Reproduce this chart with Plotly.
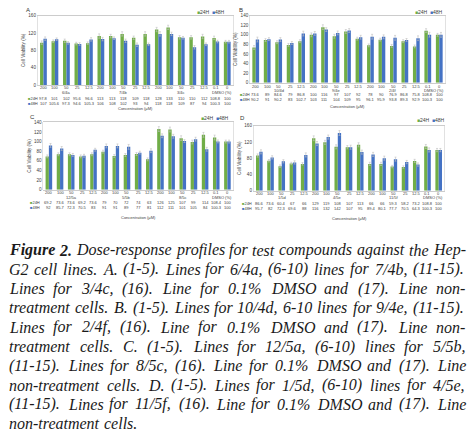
import plotly.graph_objects as go

# ---------------- data ----------------
conc_labels = ["200", "100", "50", "25", "12.5", "200", "100", "50", "25", "12.5",
               "200", "100", "50", "25", "12.5", "0.1", "0"]

A_groups = ["6/4a", "7/4b", "3/4c", "DMSO (%)"]
A_24 = [97.8, 101, 102, 95.6, 96.6, 113, 113, 118, 109, 118, 128, 133, 110, 110, 112, 108.8, 100]
A_48 = [107, 105.6, 97.3, 94.6, 105.3, 106, 108, 102, 93, 94, 118, 118, 109, 87, 94, 100.3, 100]
A_e24 = [4, 3, 4, 3, 3, 5, 4, 5, 4, 5, 5, 5, 4, 4, 5, 4, 3]
A_e48 = [4, 3, 3, 3, 4, 4, 3, 4, 4, 3, 5, 4, 3, 4, 3, 3, 3]

B_groups = ["10/4d", "9/4e", "2/4f", "DMSO (%)"]
B_24 = [73.6, 89, 84.6, 79, 86.8, 100, 116, 97, 107, 92, 78, 90, 76.9, 86.8, 75.8, 108.8, 100]
B_48 = [90.2, 91, 90.2, 83, 102.7, 103, 111, 104, 109, 95, 96.1, 95.9, 93.8, 89.3, 92.9, 100.3, 100]
B_e24 = [4, 3, 3, 3, 3, 4, 5, 4, 4, 3, 3, 3, 3, 3, 3, 4, 3]
B_e48 = [5, 3, 4, 3, 5, 4, 4, 4, 4, 4, 5, 4, 5, 3, 5, 5, 5]

C_groups = ["12/5a", "5/5b", "8/5c", "DMSO (%)"]
C_24 = [69.2, 73.6, 73.6, 69.2, 73.6, 79, 70, 72, 74, 63, 126, 125, 107, 99, 114, 108.4, 100]
C_48 = [92, 85.7, 72.3, 70.5, 83, 91, 91, 89, 77, 81, 112, 111, 101, 105, 84, 100.3, 100]
C_e24 = [3, 3, 3, 3, 3, 3, 3, 3, 3, 3, 5, 5, 5, 4, 5, 5, 3]
C_e48 = [4, 4, 3, 3, 3, 4, 4, 5, 3, 4, 4, 4, 3, 4, 4, 3, 3]

D_groups = ["1/5d", "4/5e", "11/5f", "DMSO (%)"]
D_24 = [86.6, 73.6, 60.4, 67, 66, 129, 119, 108, 107, 113, 66, 66, 59.3, 58.2, 73.2, 108.8, 100]
D_48 = [95.7, 82, 72.3, 69.6, 88, 116, 132, 142, 107, 95, 89.4, 80.1, 77.7, 70.5, 64.3, 100.3, 100]
D_e24 = [4, 3, 3, 3, 3, 6, 5, 5, 4, 5, 4, 4, 3, 3, 4, 5, 4]
D_e48 = [5, 4, 4, 4, 5, 5, 5, 6, 5, 5, 5, 5, 5, 4, 4, 5, 4]

series_names = ["24H", "48H"]
colors = ["#70AD47", "#4472C4"]

caption_lines = [
    "Figure 2. Dose-response profiles for test compounds against the Hep-",
    "G2 cell lines. A. (1-5). Lines for 6/4a, (6-10) lines for 7/4b, (11-15).",
    "Lines for 3/4c, (16). Line for 0.1% DMSO and (17). Line non-",
    "treatment cells. B. (1-5). Lines for 10/4d, 6-10 lines for 9/4e, (11-15).",
    "Lines for 2/4f, (16). Line for 0.1% DMSO and (17). Line non-",
    "treatment cells. C. (1-5). Lines for 12/5a, (6-10) lines for 5/5b,",
    "(11-15). Lines for 8/5c, (16). Line for 0.1% DMSO and (17). Line",
    "non-treatment cells. D. (1-5). Lines for 1/5d, (6-10) lines for 4/5e,",
    "(11-15). Lines for 11/5f, (16). Line for 0.1% DMSO and (17). Line",
    "non-treatment cells.",
]

# ---------------- layout helpers ----------------
W, H = 474, 441
def px(x): return x / W
def py(y): return 1 - y / H

panels = [
    dict(letter="A", s="", y24=A_24, y48=A_48, e24=A_e24, e48=A_e48, groups=A_groups,
         xd=(37.7, 233), yd=(15.7, 85), ymax=160, dtick=40, lab=(28, 10), leg=(197, 11.7),
         tick=87.8, grp=92.3, r24=98.5, r48=103.3, conc=108.5, rowx=38),
    dict(letter="B", s="2", y24=B_24, y48=B_48, e24=B_e24, e48=B_e48, groups=B_groups,
         xd=(250, 445), yd=(15.7, 82.7), ymax=140, dtick=20, lab=(241, 10), leg=(415, 12),
         tick=86, grp=90.3, r24=94.7, r48=99.3, conc=106.5, rowx=250),
    dict(letter="C", s="3", y24=C_24, y48=C_48, e24=C_e24, e48=C_e48, groups=C_groups,
         xd=(43.3, 233), yd=(122.3, 189.7), ymax=140, dtick=20, lab=(32.7, 117.3), leg=(201, 118.3),
         tick=192.7, grp=197.3, r24=202, r48=207, conc=217.3, rowx=40),
    dict(letter="D", s="4", y24=D_24, y48=D_48, e24=D_e24, e48=D_e48, groups=D_groups,
         xd=(253.7, 444.3), yd=(125.7, 190.7), ymax=160, dtick=40, lab=(242, 118), leg=(417, 120),
         tick=193.5, grp=197.8, r24=203.7, r48=209, conc=218.3, rowx=252),
]

TXT = "#404040"
SF = "Liberation Sans"
fig = go.Figure()
annotations = []
layout = dict(width=W, height=H, margin=dict(l=0, r=0, t=0, b=0, autoexpand=False),
              paper_bgcolor="white", plot_bgcolor="white",
              barmode="group", bargap=0.41, bargroupgap=0, showlegend=False)

def fmt(v):
    return str(int(v)) if float(v).is_integer() else f"{v:.1f}"

def ann(**kw):
    base = dict(showarrow=False, borderpad=0, borderwidth=0, xanchor="center", yanchor="middle")
    base.update(kw)
    annotations.append(base)

cats = list(range(len(conc_labels)))
for p in panels:
    s = p["s"]
    xr, yr = "x" + s, "y" + s
    for name, col, ys, es in [(series_names[0], colors[0], p["y24"], p["e24"]),
                               (series_names[1], colors[1], p["y48"], p["e48"])]:
        fig.add_trace(go.Bar(x=cats, y=ys, name=name, marker=dict(color=col, line=dict(width=0)),
                             error_y=dict(type="data", array=es, color="#BFBFBF", thickness=0.6, width=1),
                             xaxis=xr, yaxis=yr, hoverinfo="skip"))
    layout["xaxis" + s] = dict(domain=[px(p["xd"][0]), px(p["xd"][1])], anchor=yr,
                               range=[-0.5, 16.5], showticklabels=False, showgrid=False,
                               zeroline=False, showline=True, linecolor="#BFBFBF", linewidth=0.8,
                               mirror=True, ticks="")
    layout["yaxis" + s] = dict(domain=[py(p["yd"][1]), py(p["yd"][0])], anchor=xr,
                               range=[0, p["ymax"]], dtick=p["dtick"], showgrid=False, zeroline=False,
                               showline=True, linecolor="#D9D9D9", linewidth=0.8, mirror=True, ticks="",
                               tickfont=dict(size=4.6, color=TXT, family=SF),
                               title=dict(text="Cell Viability (%)", font=dict(size=4.6, color=TXT, family=SF),
                                          standoff=2))
    f5 = dict(size=4.0, color=TXT, family=SF)
    for i, t in enumerate(conc_labels):
        ann(x=i, xref=xr, y=py(p["tick"]), yref="paper", text=t, font=f5)
    for gx, g in zip([2, 7, 12, 15.5], p["groups"]):
        ann(x=gx, xref=xr, y=py(p["grp"]), yref="paper", text=g, font=f5)
    for rowy, vals, col, nm in [(p["r24"], p["y24"], colors[0], series_names[0]),
                                (p["r48"], p["y48"], colors[1], series_names[1])]:
        for i, v in enumerate(vals):
            ann(x=i, xref=xr, y=py(rowy), yref="paper", text=fmt(v), font=f5)
        ann(x=px(p["rowx"]), xref="paper", xanchor="right", y=py(rowy), yref="paper",
            text=f"<span style='color:{col}'>■</span>{nm}", font=f5)
    ann(x=px((p["xd"][0] + p["xd"][1]) / 2), xref="paper", y=py(p["conc"]), yref="paper",
        text="Concentration (µM)", font=f5)
    ann(x=px(p["lab"][0]), xref="paper", y=py(p["lab"][1]), yref="paper",
        text=p["letter"], font=dict(size=6, color="#333333", family=SF))
    ann(x=px(p["leg"][0]), xref="paper", xanchor="left", y=py(p["leg"][1]), yref="paper",
        text=f"<span style='color:{colors[0]}'>■</span>{series_names[0]}  "
             f"<span style='color:{colors[1]}'>■</span>{series_names[1]}",
        font=dict(size=5, color=TXT, family=SF))

# ---------------- caption (justified, italic serif) ----------------
TI = {' ': 250, '%': 833, '(': 333, ')': 333, ',': 250, '-': 333, '.': 250, '/': 278,
      'A': 611, 'B': 611, 'C': 667, 'D': 722, 'E': 611, 'F': 611, 'G': 722, 'H': 722, 'I': 333,
      'L': 556, 'M': 833, 'N': 667, 'O': 722, 'S': 500, 'T': 556,
      'a': 500, 'b': 500, 'c': 444, 'd': 500, 'e': 444, 'f': 278, 'g': 500, 'h': 500, 'i': 278,
      'j': 278, 'k': 444, 'l': 278, 'm': 722, 'n': 500, 'o': 500, 'p': 500, 'q': 500, 'r': 389,
      's': 389, 't': 278, 'u': 500, 'v': 444, 'w': 667, 'x': 444, 'y': 444, 'z': 389}
TBI = dict(TI); TBI.update({'F': 667, 'u': 556})
FS = 16
def wid(word, bold=False):
    tb = TBI if bold else TI
    return sum(tb.get(c, 500) for c in word) * FS / 1000.0

X0, X1 = 9, 465
for li, line in enumerate(caption_lines):
    yline = 250 + li * 19.3
    words = line.split(" ")
    bolds = [li == 0 and wi < 2 for wi in range(len(words))]
    widths = [wid(w, b) for w, b in zip(words, bolds)]
    justify = li < len(caption_lines) - 1
    gap = (X1 - X0 - sum(widths)) / (len(words) - 1) if justify else wid(" ")
    x = X0
    for w, b, ww in zip(words, bolds, widths):
        txt = f"<b><i>{w}</i></b>" if b else f"<i>{w}</i>"
        ann(x=px(x), xref="paper", xanchor="left", y=py(yline), yref="paper", text=txt,
            font=dict(size=FS, color="#1a1a1a", family="Liberation Serif"))
        x += ww + gap

layout["annotations"] = annotations
layout["hovermode"] = False
fig.update_layout(**layout)
fig.write_html("out.html", config={"displayModeBar": False, "staticPlot": True},
               post_script="document.body.style.margin='0';document.body.style.overflow='hidden';")
